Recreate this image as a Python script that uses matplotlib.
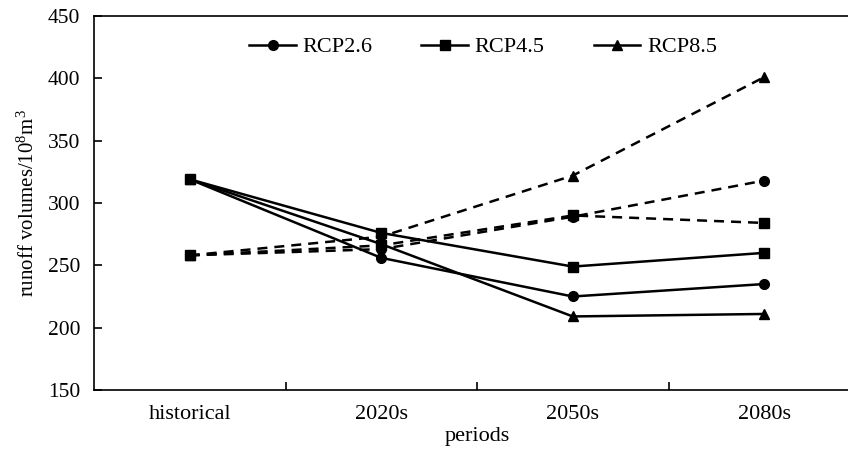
import matplotlib
matplotlib.use("Agg")
import matplotlib.pyplot as plt
from matplotlib.ticker import FixedLocator

plt.rcParams['font.family'] = ['Liberation Serif', 'DejaVu Serif']
plt.rcParams['mathtext.default'] = 'regular'

periods = ["historical", "2020s", "2050s", "2080s"]
scenarios = ["RCP2.6", "RCP4.5", "RCP8.5"]
markers = ["o", "s", "^"]

# runoff volumes (10^8 m^3), solid series
solid_rcp26 = [319, 256, 225, 235]
solid_rcp45 = [319, 276, 249, 260]
solid_rcp85 = [319, 267, 209, 211]

# runoff volumes (10^8 m^3), dashed series
dashed_rcp26 = [258, 263, 289, 318]
dashed_rcp45 = [258, 266, 290, 284]
dashed_rcp85 = [258, 273, 322, 401]

solid = [solid_rcp26, solid_rcp45, solid_rcp85]
dashed = [dashed_rcp26, dashed_rcp45, dashed_rcp85]

fig = plt.figure(figsize=(8.48, 4.53), dpi=100)
ax = fig.add_axes([94/848, 63/453, (860-94)/848, 374/453])

x = list(range(len(periods)))
lw = 1.8
for name, mk, ys in zip(scenarios, markers, solid):
    ax.plot(x, ys, color="black", lw=lw, marker=mk, markersize=7,
            label=name, clip_on=False)
for mk, ys in zip(markers, dashed):
    ax.plot(x, ys, color="black", lw=lw, marker=mk, markersize=7,
            linestyle=(0, (4, 2.8)), clip_on=False)

ax.set_xlim(-0.5, len(periods) - 0.5)
ax.set_ylim(150, 450)
ax.set_yticks(range(150, 451, 50))
ax.set_xticks(x)
ax.set_xticklabels(periods)
ax.xaxis.set_minor_locator(FixedLocator([0.5, 1.5, 2.5]))
ax.tick_params(axis="x", which="major", length=0, pad=11, labelsize=16)
ax.tick_params(axis="x", which="minor", direction="in", length=6, width=1.2)
ax.tick_params(axis="y", which="major", direction="in", length=6, width=1.2,
               pad=10, labelsize=15.5)
for s in ax.spines.values():
    s.set_linewidth(1.2)

ax.set_xlabel("periods", fontsize=16, labelpad=2)
ax.set_ylabel("runoff volumes/10$^{8}$m$^{3}$", fontsize=15, labelpad=6)

ax.legend(loc="center", bbox_to_anchor=(0.508, 0.917), ncol=3, frameon=False,
          fontsize=16, handlelength=2.1, handletextpad=0.3,
          columnspacing=2.2)

fig.savefig("out.png", dpi=100)
